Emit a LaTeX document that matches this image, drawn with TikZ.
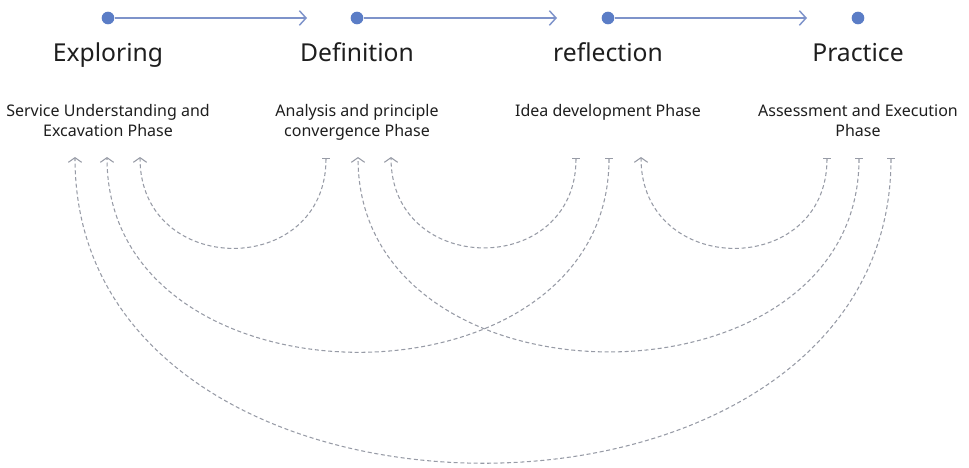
\documentclass[tikz,border=0pt]{standalone}
\usepackage{fontspec}
\setmainfont{Noto Sans}
\usetikzlibrary{arrows.meta,positioning}
\definecolor{DotClr}{HTML}{5B7DC6}
\definecolor{FlowClr}{HTML}{7E93CA}
\definecolor{LoopClr}{HTML}{979BA6}
\definecolor{TextClr}{HTML}{1E1E1E}

\begin{document}
\begin{tikzpicture}[x=.75pt,y=.75pt,
  dot/.style={circle,fill=DotClr,inner sep=0pt,minimum size=9.5pt},
  phase/.style={text=TextClr,anchor=base,inner sep=0pt,font=\fontsize{18.5}{22}\selectfont},
  desc/.style={text=TextClr,anchor=north,inner sep=0pt,align=center,font=\fontsize{12}{15}\selectfont},
  flow/.style={FlowClr,line width=1.1pt,-{Straight Barb[length=5pt,width=11pt]}},
  loop/.style={LoopClr,line width=.8pt,dash pattern=on 3pt off 2pt,
    {Bar[width=6pt,line width=.8pt]}-{Straight Barb[length=3.5pt,width=10pt]}}]
\useasboundingbox (0,0) rectangle (969,-467);

\node[dot] (d1) at (108,-18) {};
\node[dot] (d2) at (357,-18) {};
\node[dot] (d3) at (608,-18) {};
\node[dot] (d4) at (858,-18) {};
\coordinate (h1) at (307,-18);
\coordinate (h2) at (557,-18);
\coordinate (h3) at (807,-18);
\draw[flow] (d1) -- (h1);
\draw[flow] (d2) -- (h2);
\draw[flow] (d3) -- (h3);

\node[phase] (p1) at (108,-61) {Exploring};
\node[phase] (p2) at (357,-61) {Definition};
\node[phase] (p3) at (608,-61) {reflection};
\node[phase] (p4) at (858,-61) {Practice};

\node[desc] (s1) at (108,-104) {Service Understanding and\\Excavation Phase};
\node[desc] (s2) at (357,-104) {Analysis and principle\\convergence Phase};
\node[desc] (s3) at (608,-104) {Idea development Phase};
\node[desc] (s4) at (858,-104) {Assessment and Execution\\Phase};

% loop ends under each phase
\coordinate (e1a) at (75,-157);  \coordinate (e1b) at (107,-157); \coordinate (e1c) at (140,-157);
\coordinate (e2a) at (326,-158); \coordinate (e2b) at (358,-157); \coordinate (e2c) at (391,-157);
\coordinate (e3a) at (576,-158); \coordinate (e3b) at (609,-158); \coordinate (e3c) at (641,-157);
\coordinate (e4a) at (827,-158); \coordinate (e4b) at (859,-158); \coordinate (e4c) at (891,-158);

% short loops
\draw[loop] (e2a) to[out=-90,in=-90,looseness=1.66] (e1c);
\draw[loop] (e3a) to[out=-90,in=-90,looseness=1.66] (e2c);
\draw[loop] (e4a) to[out=-90,in=-90,looseness=1.66] (e3c);
% long loops
\draw[loop] (e3b) to[out=-90,in=-90,looseness=1.32] (e1b);
\draw[loop] (e4b) to[out=-90,in=-90,looseness=1.32] (e2b);
\draw[loop] (e4c) to[out=-90,in=-90,looseness=1.28] (e1a);

\end{tikzpicture}
\end{document}
